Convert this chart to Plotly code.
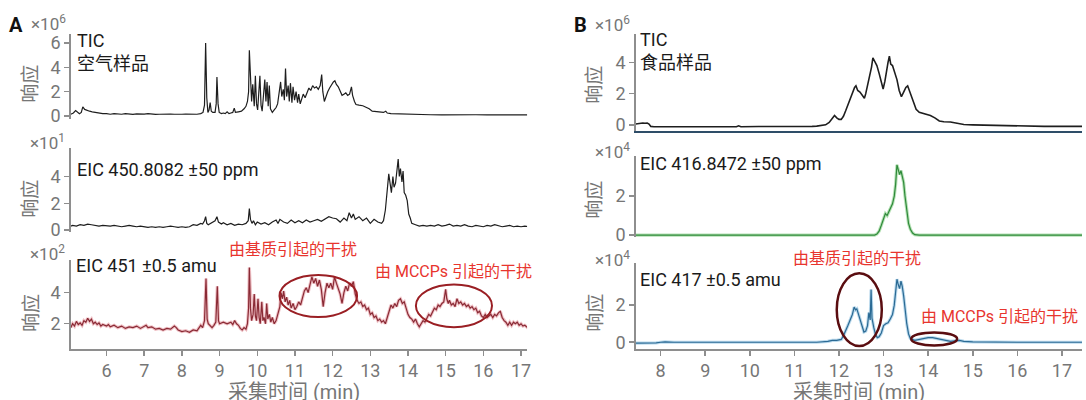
import plotly.graph_objects as go

W, H = 1086, 400
FONT = 'Roboto, "Noto Sans CJK SC", sans-serif'
GRAY = '#767676'
AXIS = '#8e8e8e'
RED = '#e8352e'

# ---------------- Panel A : air sample ----------------
a_tic_t = [5.05, 5.12, 5.18, 5.22, 5.28, 5.33, 5.37, 5.42, 5.48, 5.55, 5.62, 5.7, 5.8, 5.9, 6.0,
           6.1, 6.2, 6.3, 6.4, 6.5, 6.6, 6.7, 6.8, 6.9, 7.0, 7.1, 7.2, 7.3, 7.4, 7.5, 7.6, 7.7,
           7.8, 7.9, 8.0, 8.1, 8.2, 8.3, 8.4, 8.5, 8.56, 8.6, 8.63, 8.66, 8.69, 8.72, 8.75, 8.78,
           8.82, 8.88, 8.91, 8.93, 8.96, 8.99, 9.05, 9.1, 9.15, 9.2, 9.25, 9.3, 9.35, 9.39, 9.42,
           9.5, 9.58, 9.65, 9.7, 9.74, 9.77, 9.79, 9.82, 9.85, 9.88, 9.92, 9.95, 9.98, 10.01,
           10.04, 10.07, 10.1, 10.13, 10.16, 10.2, 10.23, 10.26, 10.29, 10.32, 10.35, 10.4, 10.45,
           10.5, 10.54, 10.58, 10.62, 10.65, 10.69, 10.72, 10.75, 10.78, 10.82, 10.85, 10.88,
           10.92, 10.95, 10.99, 11.03, 11.07, 11.1, 11.14, 11.18, 11.22, 11.27, 11.32, 11.37,
           11.42, 11.47, 11.52, 11.57, 11.62, 11.67, 11.71, 11.74, 11.78, 11.82, 11.87, 11.92,
           11.97, 12.02, 12.06, 12.1, 12.15, 12.2, 12.25, 12.3, 12.35, 12.4, 12.45, 12.5, 12.53,
           12.58, 12.62, 12.7, 12.8, 12.9, 12.97, 13.05, 13.15, 13.25, 13.35, 13.41, 13.45, 13.55,
           13.7, 13.9, 14.1, 14.3, 14.6, 14.9, 15.2, 15.5, 15.8, 16.1, 16.4, 16.7, 17.0, 17.2]
a_tic_v = [0.15, 0.25, 0.45, 0.35, 0.2, 0.3, 0.75, 0.55, 0.45, 0.4, 0.35, 0.3, 0.25, 0.2, 0.2,
           0.15, 0.2, 0.18, 0.15, 0.2, 0.15, 0.14, 0.18, 0.15, 0.16, 0.2, 0.15, 0.14, 0.15, 0.17,
           0.14, 0.16, 0.15, 0.18, 0.15, 0.17, 0.16, 0.2, 0.15, 0.2, 0.3, 0.9, 6.0, 1.5, 0.3, 0.5,
           1.1, 0.4, 0.3, 0.3, 1.0, 3.2, 1.0, 0.3, 0.2, 0.25, 0.2, 0.35, 0.2, 0.25, 0.3, 0.65, 0.3,
           0.35, 0.4, 0.6, 0.8, 1.2, 2.0, 5.4, 2.6, 1.2, 2.6, 0.8, 3.3, 1.0, 0.5, 2.0, 3.3, 0.9,
           0.4, 1.5, 3.0, 1.2, 2.8, 0.8, 2.5, 0.6, 0.3, 0.5, 0.7, 1.0, 1.8, 2.8, 1.6, 2.2, 1.3,
           3.9, 1.6, 2.5, 1.2, 2.7, 1.1, 2.4, 1.3, 2.0, 1.1, 1.8, 1.0, 1.4, 1.8, 1.5, 2.0, 2.3,
           2.1, 2.5, 2.3, 2.4, 2.2, 2.5, 3.4, 2.0, 1.2, 1.6, 2.0, 2.3, 2.6, 2.8, 2.9, 2.6, 2.4,
           2.1, 1.7, 1.8, 1.9, 1.7, 1.8, 2.4, 1.7, 1.2, 0.95, 0.9, 0.85, 0.7, 0.6, 0.4, 0.35, 0.3,
           0.3, 0.4, 0.25, 0.2, 0.18, 0.15, 0.13, 0.12, 0.11, 0.1, 0.12, 0.1, 0.11, 0.1, 0.12,
           0.1, 0.1, 0.1]

a_eic1_t = [5.05, 5.1, 5.2, 5.3, 5.4, 5.5, 5.6, 5.7, 5.8, 5.9, 6.0, 6.1, 6.2, 6.3, 6.4, 6.5, 6.6,
            6.7, 6.8, 6.9, 7.0, 7.1, 7.2, 7.3, 7.4, 7.5, 7.6, 7.7, 7.8, 7.9, 8.0, 8.1, 8.2, 8.3,
            8.4, 8.5, 8.55, 8.6, 8.63, 8.66, 8.7, 8.8, 8.88, 8.93, 8.97, 9.05, 9.1, 9.2, 9.3, 9.4,
            9.5, 9.6, 9.7, 9.76, 9.79, 9.82, 9.86, 9.9, 9.95, 10.0, 10.1, 10.2, 10.3, 10.4, 10.5,
            10.55, 10.6, 10.7, 10.8, 10.9, 11.0, 11.1, 11.2, 11.3, 11.4, 11.5, 11.6, 11.7, 11.8,
            11.9, 12.0, 12.1, 12.2, 12.3, 12.38, 12.44, 12.5, 12.55, 12.6, 12.7, 12.8, 12.9, 13.0,
            13.1, 13.2, 13.3, 13.35, 13.4, 13.45, 13.49, 13.53, 13.56, 13.6, 13.63, 13.67, 13.71,
            13.74, 13.77, 13.8, 13.84, 13.87, 13.9, 13.94, 13.98, 14.02, 14.06, 14.1, 14.2, 14.3,
            14.4, 14.5, 14.6, 14.7, 14.8, 14.9, 15.0, 15.1, 15.2, 15.3, 15.4, 15.5, 15.6, 15.7,
            15.8, 15.9, 16.0, 16.1, 16.2, 16.3, 16.4, 16.5, 16.6, 16.7, 16.8, 16.9, 17.0, 17.1,
            17.2]
a_eic1_v = [0.3, 0.35, 0.3, 0.4, 0.35, 0.45, 0.4, 0.35, 0.3, 0.35, 0.3, 0.3, 0.35, 0.3, 0.25,
            0.3, 0.35, 0.3, 0.25, 0.3, 0.25, 0.2, 0.25, 0.2, 0.25, 0.2, 0.25, 0.3, 0.25, 0.2,
            0.25, 0.2, 0.25, 0.4, 0.35, 0.5, 0.45, 0.7, 1.0, 0.5, 0.4, 0.6, 0.7, 1.0, 0.6, 0.45,
            0.55, 0.4, 0.5, 0.35, 0.45, 0.4, 0.5, 0.7, 1.6, 0.8, 0.5, 0.7, 0.4, 0.6, 0.45, 0.55,
            0.4, 0.6, 0.75, 0.5, 0.8, 0.6, 0.5, 0.75, 0.55, 0.7, 0.55, 0.75, 0.6, 0.7, 0.8, 0.65,
            0.85, 1.0, 0.9, 0.85, 0.6, 0.9, 0.7, 1.3, 0.9, 1.2, 0.8, 1.0, 0.7, 0.9, 0.5, 0.8, 0.6,
            0.5, 0.7, 1.5, 3.0, 4.2, 3.4, 2.8, 4.0, 3.2, 3.5, 4.8, 5.3, 4.0, 4.6, 3.6, 4.4, 2.8,
            2.6, 2.2, 1.2, 0.9, 0.5, 0.4, 0.3, 0.35, 0.3, 0.35, 0.3, 0.4, 0.3, 0.35, 0.45, 0.3,
            0.35, 0.3, 0.4, 0.3, 0.25, 0.35, 0.3, 0.25, 0.35, 0.3, 0.4, 0.3, 0.25, 0.3, 0.35,
            0.25, 0.3, 0.25, 0.3, 0.25]

a_eic2_t = [5.05, 5.1, 5.15, 5.2, 5.25, 5.3, 5.35, 5.4, 5.45, 5.5, 5.55, 5.6, 5.65, 5.7, 5.75,
            5.8, 5.85, 5.9, 6.0, 6.05, 6.1, 6.2, 6.3, 6.4, 6.5, 6.6, 6.7, 6.8, 6.9, 7.0, 7.05,
            7.1, 7.2, 7.3, 7.4, 7.5, 7.6, 7.7, 7.8, 7.85, 7.9, 8.0, 8.1, 8.2, 8.3, 8.4, 8.45, 8.5,
            8.55, 8.6, 8.64, 8.67, 8.7, 8.75, 8.8, 8.85, 8.9, 8.94, 8.97, 9.0, 9.1, 9.2, 9.3, 9.35,
            9.4, 9.45, 9.5, 9.55, 9.6, 9.65, 9.7, 9.74, 9.77, 9.79, 9.82, 9.85, 9.89, 9.92, 9.95,
            9.98, 10.02, 10.05, 10.08, 10.12, 10.15, 10.18, 10.22, 10.25, 10.28, 10.32, 10.36,
            10.4, 10.45, 10.5, 10.55, 10.6, 10.63, 10.67, 10.7, 10.74, 10.78, 10.82, 10.86, 10.9,
            10.95, 11.0, 11.05, 11.1, 11.15, 11.2, 11.25, 11.3, 11.35, 11.4, 11.45, 11.5, 11.55,
            11.6, 11.65, 11.7, 11.75, 11.8, 11.85, 11.9, 11.95, 12.0, 12.05, 12.1, 12.15, 12.2,
            12.25, 12.3, 12.35, 12.4, 12.45, 12.5, 12.55, 12.6, 12.65, 12.7, 12.75, 12.8, 12.85,
            12.9, 12.95, 13.0, 13.05, 13.1, 13.15, 13.2, 13.25, 13.3, 13.35, 13.4, 13.45, 13.5,
            13.55, 13.6, 13.65, 13.7, 13.75, 13.8, 13.85, 13.9, 13.95, 14.0, 14.05, 14.1, 14.15,
            14.2, 14.25, 14.3, 14.35, 14.4, 14.45, 14.5, 14.55, 14.6, 14.65, 14.7, 14.75, 14.8,
            14.85, 14.9, 14.95, 15.0, 15.03, 15.07, 15.1, 15.15, 15.2, 15.25, 15.3, 15.35, 15.4,
            15.45, 15.5, 15.55, 15.6, 15.65, 15.7, 15.75, 15.8, 15.85, 15.9, 15.95, 16.0, 16.05,
            16.1, 16.15, 16.2, 16.25, 16.3, 16.35, 16.4, 16.45, 16.5, 16.55, 16.6, 16.65, 16.7,
            16.75, 16.8, 16.85, 16.9, 16.95, 17.0, 17.05, 17.1, 17.2]
a_eic2_v = [1.75, 2.0, 1.85, 2.15, 1.95, 2.05, 1.9, 2.2, 2.1, 2.35, 2.15, 2.3, 2.0, 2.1, 1.95,
            2.05, 1.85, 1.95, 1.85, 1.95, 1.8, 1.9, 1.75, 1.85, 1.7, 1.8, 1.75, 1.85, 1.7, 1.8,
            1.9, 1.75, 1.8, 1.65, 1.7, 1.6, 1.7, 1.65, 1.85, 1.75, 1.6, 1.5, 1.55, 1.45, 1.6, 1.55,
            1.7, 1.9, 1.75, 2.2, 4.9, 2.3, 2.0, 1.9, 1.75, 1.9, 2.1, 4.4, 2.2, 2.0, 2.1, 2.0, 2.1,
            1.95, 2.2, 2.0, 1.9, 1.7, 1.6, 1.75, 1.65, 2.0, 3.0, 5.6, 3.0, 2.2, 2.6, 3.9, 2.5, 2.2,
            3.6, 2.4, 2.0, 3.4, 2.2, 2.4, 2.0, 3.3, 2.3, 2.6, 2.1, 2.4, 2.0, 2.2, 2.6, 3.1, 4.0,
            3.6, 4.1, 3.4, 3.7, 3.2, 3.5, 3.0, 3.3, 2.9, 3.1, 3.4, 3.2, 3.7, 4.1, 4.3, 4.0, 4.5,
            5.0, 4.6, 4.9, 4.4, 4.8, 4.2, 3.1, 4.0, 4.6, 4.3, 4.6, 4.2, 5.0, 4.6, 4.3, 3.9, 3.3,
            4.0, 4.4, 4.1, 4.6, 4.4, 4.7, 3.9, 3.5, 3.3, 3.4, 3.1, 3.2, 2.9, 3.0, 2.6, 2.7, 2.4,
            2.5, 2.2, 2.3, 2.1, 2.2, 2.0, 2.4, 2.9, 3.2, 3.0, 3.3, 3.1, 3.5, 3.6, 3.3, 3.4, 2.9,
            2.6, 2.4, 2.3, 2.1, 2.3, 2.0, 1.8, 2.0, 2.2, 2.1, 2.4, 2.6, 2.5, 2.8, 3.0, 2.9, 3.2,
            3.1, 3.3, 3.4, 4.2, 3.6, 3.3, 3.5, 3.2, 3.3, 3.1, 3.6, 3.3, 3.4, 3.2, 3.3, 3.1, 3.2,
            3.0, 3.1, 2.9, 3.0, 2.7, 2.8, 2.5, 2.4, 2.6, 2.4, 2.5, 2.6, 2.4, 2.6, 2.5, 2.7, 2.8,
            2.4, 2.2, 2.1, 1.9, 2.1, 1.9, 2.1, 2.0, 2.1, 1.9, 2.0, 1.85, 1.9, 1.7]

# ---------------- Panel B : food sample ----------------
b_tic_t = [7.44, 7.5, 7.55, 7.6, 7.65, 7.7, 7.74, 7.78, 7.85, 8.2, 8.6, 9.0, 9.4, 9.7, 9.75,
           9.8, 10.2, 10.6, 11.0, 11.4, 11.5, 11.6, 11.7, 11.78, 11.84, 11.9, 11.95, 12.0,
           12.05, 12.1, 12.15, 12.2, 12.25, 12.3, 12.35, 12.38, 12.42, 12.47, 12.52, 12.57,
           12.6, 12.65, 12.7, 12.73, 12.76, 12.8, 12.85, 12.9, 12.95, 12.99, 13.03, 13.07, 13.1,
           13.13, 13.16, 13.2, 13.25, 13.3, 13.35, 13.4, 13.45, 13.5, 13.54, 13.58, 13.63, 13.68,
           13.73, 13.8, 13.88, 13.95, 14.05, 14.15, 14.25, 14.35, 14.5, 14.65, 14.8, 15.0, 15.3,
           15.6, 16.0, 16.2, 16.6, 17.0, 17.45]
b_tic_v = [0.05, 0.08, 0.1, 0.12, 0.1, 0.12, 0.05, -0.1, -0.12, -0.12, -0.11, -0.12, -0.11,
           -0.12, -0.06, -0.12, -0.11, -0.12, -0.11, -0.1, -0.08, -0.05, 0.0, 0.15, 0.4, 0.6,
           0.45, 0.35, 0.35, 0.55, 0.9, 1.3, 1.7, 2.1, 2.4, 2.5, 2.2, 2.1, 1.9, 1.7, 2.0, 2.6,
           3.2, 3.7, 4.3, 4.1, 3.8, 3.3, 2.7, 2.3, 2.8, 3.6, 4.0, 4.4, 3.9, 3.8, 3.3, 2.9, 2.2,
           1.8, 2.1, 2.4, 2.5, 2.2, 1.8, 1.4, 1.0, 0.8, 0.75, 0.7, 0.6, 0.45, 0.25, 0.2, 0.18,
           0.1, 0.02, 0.0, -0.02, -0.05, -0.08, -0.1, -0.1, -0.1, -0.1]

b_eic1_t = [7.44, 8.0, 9.0, 10.0, 11.0, 12.0, 12.8, 12.85, 12.9, 12.95, 13.0, 13.04, 13.08,
            13.12, 13.16, 13.2, 13.24, 13.27, 13.3, 13.33, 13.36, 13.39, 13.42, 13.45, 13.48,
            13.52, 13.56, 13.6, 13.65, 13.7, 13.8, 14.5, 15.5, 16.5, 17.45]
b_eic1_v = [0.0, 0.0, 0.0, 0.0, 0.0, 0.0, 0.0, 0.05, 0.2, 0.5, 0.9, 1.1, 1.0, 1.2, 1.4, 1.6, 2.0,
            2.6, 3.6, 3.3, 3.1, 3.3, 2.9, 2.7, 2.0, 1.2, 0.6, 0.3, 0.1, 0.02, 0.0, 0.0, 0.0, 0.0,
            0.0]

b_eic2_t = [7.44, 7.7, 7.9, 8.0, 8.1, 8.3, 9.0, 10.0, 11.0, 11.5, 11.75, 11.85, 11.95, 12.05,
            12.1, 12.15, 12.2, 12.25, 12.3, 12.34, 12.37, 12.4, 12.44, 12.48, 12.52, 12.56, 12.6,
            12.64, 12.67, 12.7, 12.72, 12.74, 12.78, 12.82, 12.86, 12.9, 12.95, 13.0, 13.05,
            13.1, 13.15, 13.2, 13.24, 13.27, 13.3, 13.33, 13.36, 13.39, 13.42, 13.45, 13.48,
            13.52, 13.56, 13.6, 13.7, 13.8, 13.9, 14.0, 14.1, 14.2, 14.3, 14.4, 14.5, 14.6, 14.7,
            14.8, 15.0, 16.0, 17.45]
b_eic2_v = [-0.05, -0.05, -0.03, 0.0, 0.02, 0.0, 0.0, 0.0, 0.0, 0.0, 0.05, 0.1, 0.1, 0.15,
            0.35, 0.6, 0.9, 1.2, 1.5, 1.9, 1.75, 1.8, 1.5, 1.2, 0.8, 0.55, 0.6, 0.9, 1.6, 1.2,
            2.85, 1.3, 0.8, 0.4, 0.25, 0.3, 0.5, 0.9, 1.0, 1.05, 1.25, 1.5, 2.0, 2.8, 3.4, 3.1,
            2.9, 3.3, 3.0, 2.5, 1.8, 1.0, 0.45, 0.2, 0.1, 0.15, 0.2, 0.25, 0.25, 0.2, 0.12, 0.08,
            0.05, 0.08, 0.1, 0.05, 0.02, 0.0, 0.0]

a_xticks = [6, 7, 8, 9, 10, 11, 12, 13, 14, 15, 16, 17]
b_xticks = [8, 9, 10, 11, 12, 13, 14, 15, 16, 17]

panel_labels = ["A", "B"]
trace_labels = ["TIC<br>空气样品", "EIC 450.8082 ±50 ppm", "EIC 451 ±0.5 amu",
                "TIC<br>食品样品", "EIC 416.8472 ±50 ppm", "EIC 417 ±0.5 amu"]
exponents = [6, 1, 2, 6, 4, 4]
note_matrix = "由基质引起的干扰"
note_mccp = "由 MCCPs 引起的干扰"
y_title = "响应"
x_title = "采集时间 (min)"


def px(x):
    return x / W


def py(y):
    return 1 - y / H


fig = go.Figure()


def add(t, v, n, color, width=1.2, halo=None, halo_w=3.2):
    xa = 'x' if n == 1 else f'x{n}'
    ya = 'y' if n == 1 else f'y{n}'
    if halo:
        fig.add_trace(go.Scatter(x=t, y=v, xaxis=xa, yaxis=ya, mode='lines',
                                 line=dict(color=halo, width=halo_w), hoverinfo='skip',
                                 showlegend=False))
    fig.add_trace(go.Scatter(x=t, y=v, xaxis=xa, yaxis=ya, mode='lines',
                             line=dict(color=color, width=width), hoverinfo='skip',
                             showlegend=False))


add(a_tic_t, a_tic_v, 1, '#1e1e1e')
add(a_eic1_t, a_eic1_v, 2, '#1e1e1e')
add(a_eic2_t, a_eic2_v, 3, '#8a2a35', halo='rgba(225,140,150,0.55)')
add(b_tic_t, b_tic_v, 4, '#1e1e1e', width=1.6)
add(b_eic1_t, b_eic1_v, 5, '#2f8a3a', halo='rgba(120,200,120,0.55)')
add(b_eic2_t, b_eic2_v, 6, '#2b6a94', halo='rgba(130,185,220,0.55)')

ytick = dict(showline=True, linecolor=AXIS, linewidth=1.5, ticks='outside', ticklen=5,
             tickwidth=1.5, tickcolor=AXIS, tickfont=dict(size=18, color=GRAY, family=FONT),
             showgrid=False, zeroline=False, fixedrange=True)

A_X = [px(71), px(529)]
B_X = [px(638), 1.0]
A_RANGE = [5.05, 17.16]
B_RANGE = [7.44, 17.45]

layout = dict(
    width=W, height=H, margin=dict(l=0, r=0, t=0, b=0),
    paper_bgcolor='white', plot_bgcolor='white', showlegend=False,
    font=dict(family=FONT),
    xaxis=dict(domain=A_X, range=A_RANGE, visible=False, anchor='y'),
    xaxis2=dict(domain=A_X, range=A_RANGE, visible=False, anchor='y2'),
    xaxis3=dict(domain=A_X, range=A_RANGE, anchor='y3', showline=True, linecolor=AXIS,
                linewidth=1.5, ticks='outside', ticklen=5, tickwidth=1.5, tickcolor=AXIS,
                tickvals=a_xticks, tickfont=dict(size=18, color=GRAY, family=FONT),
                showgrid=False, zeroline=False),
    xaxis4=dict(domain=B_X, range=B_RANGE, anchor='y4', showline=True, linecolor='#2e4d68',
                linewidth=2, showticklabels=False, ticks='', showgrid=False, zeroline=False),
    xaxis5=dict(domain=B_X, range=B_RANGE, visible=False, anchor='y5'),
    xaxis6=dict(domain=B_X, range=B_RANGE, anchor='y6', showline=True, linecolor=AXIS,
                linewidth=1.5, ticks='outside', ticklen=5, tickwidth=1.5, tickcolor=AXIS,
                tickvals=b_xticks, tickfont=dict(size=18, color=GRAY, family=FONT),
                showgrid=False, zeroline=False),
    yaxis=dict(domain=[py(120), py(33)], range=[-0.24, 6.72], tickvals=[0, 2, 4, 6],
               anchor='x', **ytick),
    yaxis2=dict(domain=[py(236), py(150)], range=[-0.15, 6.11], tickvals=[0, 2, 4],
                anchor='x2', **ytick),
    yaxis3=dict(domain=[py(356), py(265)], range=[0.375, 6.06], tickvals=[2, 4],
                anchor='x3', **ytick),
    yaxis4=dict(domain=[py(132), py(33)], range=[-0.375, 5.81], tickvals=[0, 2, 4],
                anchor='x4', **ytick),
    yaxis5=dict(domain=[py(241), py(158)], range=[-0.1, 4.05], tickvals=[0, 2],
                anchor='x5', **ytick),
    yaxis6=dict(domain=[py(356), py(268)], range=[-0.37, 4.26], tickvals=[0, 2],
                anchor='x6', **ytick),
)
fig.update_layout(**layout)

ann = []
# panel letters
ann.append(dict(x=px(7), y=py(24), xref='paper', yref='paper', text=f"<b>{panel_labels[0]}</b>",
                showarrow=False, xanchor='left', yanchor='middle',
                font=dict(size=20, color='#111111', family=FONT)))
ann.append(dict(x=px(574), y=py(24), xref='paper', yref='paper', text=f"<b>{panel_labels[1]}</b>",
                showarrow=False, xanchor='left', yanchor='middle',
                font=dict(size=20, color='#111111', family=FONT)))

# exponent labels (right edge x, center y)
exp_pos = [(68, 22), (67, 144), (67, 257), (634, 23), (634, 153), (634, 264)]
for (ex, ey), e in zip(exp_pos, exponents):
    ann.append(dict(x=px(ex), y=py(ey), xref='paper', yref='paper',
                    text=f"×10<sup>{e}</sup>", showarrow=False, xanchor='right',
                    yanchor='middle', font=dict(size=17, color=GRAY, family=FONT)))

# y titles
ytitle_pos = [(31, 84), (31, 202), (31, 319), (597, 85), (597, 203), (597, 319)]
for (tx, ty) in ytitle_pos:
    ann.append(dict(x=px(tx), y=py(ty), xref='paper', yref='paper', text=y_title,
                    showarrow=False, textangle=-90, xanchor='center', yanchor='middle',
                    font=dict(size=19, color=GRAY, family=FONT)))

# x titles (partly cut by the bottom edge, as in the source)
for cx in (295, 862):
    ann.append(dict(x=px(cx), y=py(386), xref='paper', yref='paper', text=x_title,
                    showarrow=False, xanchor='center', yanchor='top',
                    font=dict(size=20, color=GRAY, family=FONT)))

# trace labels in data coordinates
lab_pos = [(5.15, 5.25, 1), (5.15, 4.55, 2), (5.13, 5.7, 3),
           (7.5, 4.7, 4), (7.5, 3.69, 5), (7.5, 3.41, 6)]
for (lx, ly, n), txt in zip(lab_pos, trace_labels):
    ann.append(dict(x=lx, y=ly, xref='x' if n == 1 else f'x{n}',
                    yref='y' if n == 1 else f'y{n}', text=txt, showarrow=False,
                    xanchor='left', yanchor='middle', align='left',
                    font=dict(size=18, color='#1a1a1a', family=FONT)))

# red notes (paper coordinates, centre)
notes = [(294, 254, note_matrix), (455, 276, note_mccp),
         (860, 263, note_matrix), (1003, 323, note_mccp)]
for nx, ny, txt in notes:
    ann.append(dict(x=px(nx), y=py(ny), xref='paper', yref='paper', text=txt, showarrow=False,
                    xanchor='center', yanchor='middle',
                    font=dict(size=16, color=RED, family=FONT)))

fig.update_layout(annotations=ann)

# ellipses
shapes = [
    dict(type='circle', xref='x3', yref='y3', x0=10.59, x1=12.65, y0=2.43, y1=5.12,
         line=dict(color='#9a1f24', width=2)),
    dict(type='circle', xref='x3', yref='y3', x0=14.21, x1=16.23, y0=1.78, y1=4.52,
         line=dict(color='#9a1f24', width=2)),
    dict(type='circle', xref='x6', yref='y6', x0=11.95, x1=12.96, y0=-0.2, y1=3.72,
         line=dict(color='#5a0d10', width=2.5)),
    dict(type='circle', xref='x6', yref='y6', x0=13.62, x1=14.65, y0=-0.17, y1=0.53,
         line=dict(color='#5a0d10', width=2.5)),
]
fig.update_layout(shapes=shapes)

fig.write_html("out.html", config={"displayModeBar": False, "staticPlot": True})

# remove the default page margin so the figure sits at the window's top-left corner
with open("out.html", "r", encoding="utf-8") as f:
    html = f.read()
html = html.replace("<head>", "<head><style>html,body{margin:0;padding:0;overflow:hidden;}</style>", 1)
with open("out.html", "w", encoding="utf-8") as f:
    f.write(html)
